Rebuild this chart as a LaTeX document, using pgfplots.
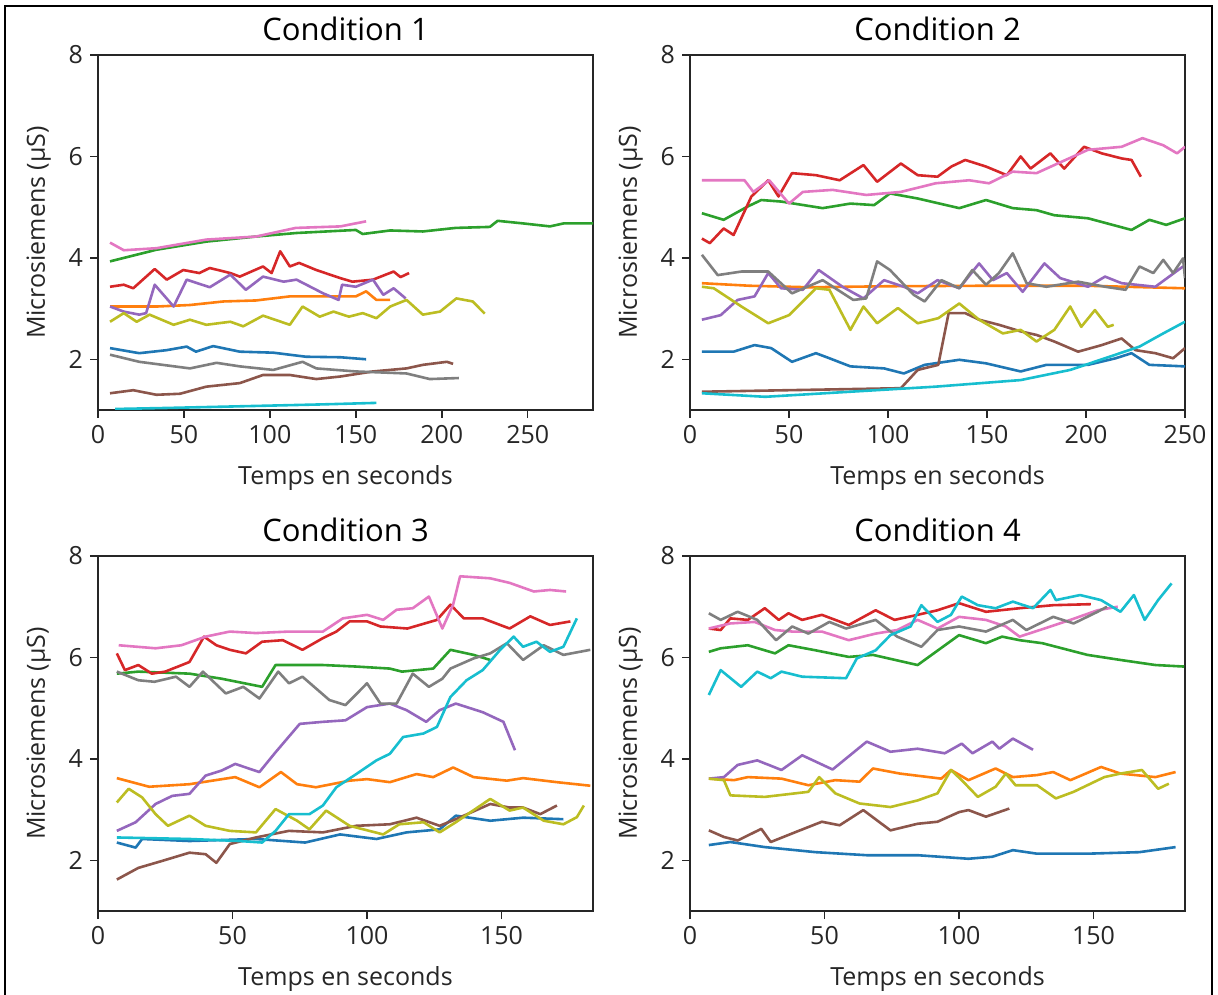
\documentclass[border=0pt]{standalone}
\usepackage{fontspec}
\setmainfont{Open Sans}
\usepackage{pgfplots}
\pgfplotsset{compat=1.18}

% matplotlib "tab10" palette
\definecolor{c0}{HTML}{1F77B4}
\definecolor{c1}{HTML}{FF7F0E}
\definecolor{c2}{HTML}{2CA02C}
\definecolor{c3}{HTML}{D62728}
\definecolor{c4}{HTML}{9467BD}
\definecolor{c5}{HTML}{8C564B}
\definecolor{c6}{HTML}{E377C2}
\definecolor{c7}{HTML}{7F7F7F}
\definecolor{c8}{HTML}{BCBD22}
\definecolor{c9}{HTML}{17BECF}

\pgfplotsset{
  panel/.style={
    scale only axis,
    width=247.5pt, height=177.5pt,
    anchor=south west,
    ymin=1, ymax=8, ytick={2,4,6,8},
    xmin=0,
    tick pos=left,
    tick align=outside,
    major tick length=4pt,
    axis line style={line width=0.75pt, black!85},
    every tick/.style={line width=0.75pt, black!85},
    font=\fontsize{12.5}{14}\selectfont,
    tick label style={font=\fontsize{12.5}{14}\selectfont, text=black!85},
    /pgf/number format/assume math mode=true,
    title style={font=\fontsize{15.5}{17}\selectfont, yshift=-2.5pt},
    xlabel={Temps en seconds},
    ylabel={Microsiemens (µS)},
    label style={text=black!85},
    xlabel style={yshift=-4pt},
    ylabel style={yshift=2pt},
    clip=true,
    every axis plot/.append style={no markers, line width=1.3pt, line join=round},
  }
}

\begin{document}
\begin{tikzpicture}
\useasboundingbox (0,0) rectangle (609pt,497pt);
\draw[line width=1.3pt] (2.5pt,-5pt) -- (2.5pt,494pt) -- (606pt,494pt) -- (606pt,-5pt);

% ---------------- Condition 1 ----------------
\begin{axis}[panel, at={(49pt,292pt)}, xmax=288, xtick={0,50,100,150,200,250}, title={Condition 1}]
\addplot[c0] coordinates {(7,2.22)(24,2.12)(40,2.18)(51.6,2.25)(57,2.15)(67,2.26)(82.5,2.15)(102,2.13)(121,2.05)(141,2.04)(156,2.00)};
\addplot[c1] coordinates {(7,3.04)(34,3.04)(53.5,3.07)(73,3.14)(92,3.16)(111.6,3.24)(131,3.24)(150,3.24)(156,3.34)(162,3.17)(170,3.17)};
\addplot[c2] coordinates {(7,3.93)(34,4.16)(63,4.32)(92,4.42)(115.5,4.49)(150,4.55)(154,4.47)(170,4.54)(189,4.52)(208,4.59)(228,4.61)(232.5,4.73)(247,4.68)(263,4.62)(271,4.68)(288,4.68)};
\addplot[c3] coordinates {(7,3.43)(15,3.47)(20.5,3.40)(33,3.78)(40,3.57)(49.6,3.76)(59,3.70)(65,3.80)(77,3.70)(82.5,3.63)(96,3.83)(101,3.70)(106,4.13)(111.6,3.83)(117,3.90)(127,3.76)(141,3.60)(148,3.53)(160,3.57)(172,3.73)(176,3.62)(181,3.70)};
\addplot[c4] coordinates {(7,3.04)(15,2.94)(24,2.88)(28,2.91)(33,3.47)(44,3.04)(51.6,3.57)(65,3.42)(77,3.67)(86,3.37)(96,3.63)(108,3.53)(115.5,3.57)(131,3.30)(140,3.17)(142,3.47)(150,3.43)(160,3.57)(166,3.27)(172,3.40)(179,3.20)};
\addplot[c5] coordinates {(7,1.33)(20.5,1.39)(34,1.30)(47.7,1.32)(63,1.46)(82.5,1.53)(96,1.69)(111.6,1.69)(127,1.61)(141,1.66)(160,1.76)(179.5,1.82)(189,1.89)(203,1.95)(206.6,1.91)};
\addplot[c6] coordinates {(7,4.30)(15,4.15)(34,4.19)(63,4.36)(92,4.42)(115,4.59)(141,4.62)(156,4.72)};
\addplot[c7] coordinates {(7,2.09)(24,1.95)(53.5,1.82)(69,1.93)(82.5,1.86)(102,1.79)(119,1.95)(127,1.82)(150,1.76)(179.5,1.72)(193,1.61)(210,1.63)};
\addplot[c8] coordinates {(7,2.74)(15,2.91)(22.5,2.74)(30,2.88)(44,2.68)(53.5,2.78)(63,2.68)(77,2.74)(84.5,2.65)(96,2.86)(111.6,2.68)(119,3.04)(129,2.84)(137,2.94)(146,2.84)(154,2.91)(162,2.81)(170,3.04)(179.5,3.17)(189,2.88)(199,2.94)(208.5,3.20)(218,3.14)(225,2.90)};
\addplot[c9] coordinates {(10,1.02)(40,1.04)(92,1.08)(130,1.11)(162,1.14)};
\end{axis}

% ---------------- Condition 2 ----------------
\begin{axis}[panel, at={(345pt,292pt)}, xmax=250, xtick={0,50,100,150,200,250}, title={Condition 2}]
\addplot[c0] coordinates {(6,2.15)(22,2.15)(32.6,2.28)(41,2.22)(51.5,1.95)(63.6,2.12)(70.4,2.02)(81,1.86)(98,1.82)(108,1.72)(118.5,1.89)(136,1.99)(149.5,1.92)(167,1.76)(180,1.89)(201,1.89)(215,2.02)(223,2.12)(232,1.89)(250,1.86)};
\addplot[c1] coordinates {(6,3.50)(30,3.45)(60,3.42)(100,3.44)(150,3.45)(200,3.45)(250,3.40)};
\addplot[c2] coordinates {(6,4.88)(17,4.75)(29,5.01)(36,5.14)(46,5.11)(67,4.98)(81,5.07)(93,5.04)(101,5.27)(115,5.17)(136,4.98)(149.5,5.14)(163,4.98)(175,4.94)(184,4.84)(201,4.78)(223,4.55)(232,4.75)(240.5,4.65)(250,4.78)};
\addplot[c3] coordinates {(6,4.38)(10,4.29)(17,4.58)(22,4.45)(31,5.21)(39.5,5.53)(44.7,5.21)(51.5,5.67)(63.6,5.63)(75.6,5.53)(87.6,5.83)(94.5,5.50)(106.5,5.86)(115,5.63)(125,5.60)(132,5.80)(139,5.93)(149.5,5.80)(160,5.63)(167,6.00)(172,5.76)(182,6.06)(189,5.76)(199,6.19)(208,6.06)(218,5.96)(223,5.93)(227.7,5.60)};
\addplot[c4] coordinates {(6,2.78)(15.5,2.87)(24,3.17)(32.6,3.24)(39.5,3.70)(46,3.40)(57,3.37)(65,3.76)(77,3.43)(87.6,3.20)(98,3.56)(108,3.43)(115,3.30)(125,3.56)(136,3.40)(146,3.89)(153,3.56)(160,3.70)(168,3.33)(179,3.89)(187,3.60)(201,3.43)(209.6,3.63)(218,3.50)(235,3.43)(249,3.83)};
\addplot[c5] coordinates {(6,1.36)(63.6,1.40)(106.5,1.43)(115,1.79)(125.4,1.89)(130.6,2.91)(139,2.91)(146,2.78)(156,2.68)(167,2.55)(175,2.48)(184,2.35)(196,2.15)(208,2.28)(218,2.41)(225,2.18)(235,2.12)(244,2.02)(250,2.22)};
\addplot[c6] coordinates {(6,5.53)(27.5,5.53)(32,5.30)(40,5.53)(50,5.07)(57,5.30)(72,5.34)(89,5.24)(106.5,5.30)(124,5.47)(141,5.53)(151,5.47)(163,5.70)(175,5.67)(184,5.83)(201,6.13)(218,6.19)(228.5,6.36)(239,6.22)(246,6.06)(250,6.19)};
\addplot[c7] coordinates {(6,4.06)(14,3.66)(26,3.73)(39.5,3.73)(51.5,3.30)(67,3.56)(82.5,3.17)(89,3.20)(94.5,3.93)(101,3.76)(113,3.27)(118.5,3.14)(127,3.56)(136,3.40)(142.6,3.76)(149.5,3.47)(156,3.70)(163,4.09)(170,3.50)(180,3.43)(196,3.53)(209.6,3.43)(220,3.37)(227,3.83)(234,3.70)(239,3.96)(244,3.70)(249,3.99)(250,3.60)};
\addplot[c8] coordinates {(6,3.43)(12,3.40)(26,3.04)(39.5,2.71)(50,2.87)(63.6,3.40)(70.4,3.37)(81,2.58)(87.6,3.04)(94.5,2.71)(105,3.01)(115,2.71)(125.4,2.81)(136,3.10)(146,2.78)(158,2.51)(167,2.58)(175,2.35)(184,2.58)(192,3.04)(197.6,2.64)(204.5,2.97)(211,2.64)(214,2.68)};
\addplot[c9] coordinates {(6,1.33)(38,1.26)(81,1.36)(124,1.46)(167,1.59)(192,1.79)(209.6,2.02)(227,2.25)(239,2.51)(250,2.74)};
\end{axis}

% ---------------- Condition 3 ----------------
\begin{axis}[panel, at={(49pt,41.5pt)}, xmax=184, xtick={0,50,100,150}, title={Condition 3}]
\addplot[c0] coordinates {(7,2.35)(14,2.25)(16.4,2.42)(34,2.38)(58.7,2.42)(77,2.35)(90,2.51)(103.5,2.42)(114.7,2.55)(127,2.61)(133,2.88)(145.8,2.78)(158,2.84)(173,2.81)};
\addplot[c1] coordinates {(7,3.62)(19,3.45)(34,3.50)(51,3.64)(60,3.44)(68,3.74)(74,3.50)(81,3.44)(93.5,3.57)(100,3.60)(108.5,3.54)(118.4,3.70)(124.6,3.64)(132,3.83)(139.6,3.64)(152,3.57)(158,3.62)(170.6,3.54)(183,3.47)};
\addplot[c2] coordinates {(7,5.68)(15,5.72)(34,5.68)(46,5.58)(61,5.42)(66,5.85)(83.6,5.85)(96,5.82)(108.5,5.78)(113,5.72)(124.6,5.78)(131,6.15)(139.6,6.05)(145.8,5.95)};
\addplot[c3] coordinates {(7,6.08)(10,5.75)(15,5.85)(20,5.68)(25,5.72)(34,5.91)(39.4,6.41)(44,6.24)(49,6.15)(55,6.08)(61,6.31)(68.7,6.34)(76,6.15)(83.6,6.38)(88.6,6.51)(93.5,6.71)(100,6.71)(105,6.61)(115,6.57)(126,6.74)(131,7.04)(136,6.77)(143,6.77)(153,6.57)(160.7,6.81)(168,6.64)(175.6,6.71)};
\addplot[c4] coordinates {(7,2.58)(14,2.75)(21.4,3.11)(27.6,3.27)(34,3.31)(40,3.67)(46,3.77)(51,3.90)(60,3.74)(66,4.13)(75,4.69)(83.6,4.73)(92,4.76)(100,5.02)(108.5,5.09)(114.7,4.96)(122,4.73)(127,4.96)(133,5.09)(143,4.92)(150.7,4.73)(155,4.17)};
\addplot[c5] coordinates {(7,1.62)(15,1.85)(24,1.99)(34,2.15)(40,2.12)(44,1.95)(49,2.32)(58.7,2.45)(71,2.58)(83.6,2.55)(96,2.68)(108.5,2.71)(118.4,2.84)(127,2.68)(133,2.81)(145.8,3.11)(153,3.04)(158,3.04)(164.4,2.91)(170.6,3.08)};
\addplot[c6] coordinates {(7.7,6.24)(21.4,6.18)(31,6.24)(40,6.41)(49,6.51)(58.7,6.48)(71,6.51)(83.6,6.51)(91,6.77)(100,6.84)(106,6.74)(111,6.94)(117,6.97)(123,7.20)(128,6.57)(132,7.04)(134.6,7.60)(145.8,7.56)(153,7.47)(162,7.30)(168,7.33)(174,7.30)};
\addplot[c7] coordinates {(7,5.72)(15,5.55)(21,5.52)(29,5.62)(34,5.42)(39,5.72)(47.5,5.29)(54,5.42)(60,5.19)(67,5.72)(71,5.49)(76,5.62)(86,5.16)(92,5.06)(100,5.49)(105,5.09)(111,5.09)(117,5.68)(123,5.42)(128,5.58)(131,5.78)(139.6,5.98)(145.8,6.08)(152,6.28)(158,5.95)(165.7,6.24)(173,6.05)(183,6.15)};
\addplot[c8] coordinates {(7,3.14)(11.4,3.41)(16.4,3.24)(21.4,2.91)(26,2.68)(34,2.88)(40,2.68)(49,2.58)(58.7,2.55)(66,3.01)(74,2.78)(78.6,2.61)(84.8,2.98)(93.5,2.68)(106,2.51)(112,2.71)(121,2.75)(127,2.55)(133,2.75)(145.8,3.21)(153,2.98)(158,3.04)(165.7,2.78)(173,2.71)(178,2.85)(180.6,3.08)};
\addplot[c9] coordinates {(7,2.45)(34,2.42)(52.5,2.38)(61,2.35)(66,2.58)(71,2.91)(78.6,2.91)(83.6,3.08)(88.6,3.44)(96,3.70)(103.5,3.97)(108.5,4.10)(113.4,4.43)(121,4.50)(126,4.63)(131,5.22)(137,5.55)(143,5.75)(149.5,6.15)(154.5,6.41)(158,6.21)(163,6.31)(168,6.11)(173,6.21)(178,6.77)};
\end{axis}

% ---------------- Condition 4 ----------------
\begin{axis}[panel, at={(345pt,41.5pt)}, xmax=184, xtick={0,50,100,150}, title={Condition 4}]
\addplot[c0] coordinates {(7,2.30)(15,2.36)(27.8,2.26)(46.7,2.16)(65.7,2.10)(84.6,2.10)(103.5,2.03)(112.4,2.07)(120,2.20)(129,2.13)(147.7,2.13)(167,2.16)(180.5,2.26)};
\addplot[c1] coordinates {(7,3.61)(16.4,3.58)(21.5,3.64)(34,3.61)(44,3.48)(54,3.58)(63,3.55)(68,3.81)(78,3.71)(93.4,3.61)(97,3.78)(103.5,3.58)(113.6,3.81)(120,3.64)(129,3.68)(135,3.74)(141.4,3.58)(152.8,3.84)(160,3.71)(173,3.64)(180.5,3.74)};
\addplot[c2] coordinates {(7,6.11)(11.4,6.18)(21.5,6.24)(31.6,6.08)(36.6,6.24)(46.7,6.14)(59,6.01)(68,6.05)(84.6,5.85)(100,6.44)(110,6.28)(116,6.41)(122.5,6.34)(131,6.28)(147.7,6.05)(160,5.95)(173,5.85)(183.7,5.82)};
\addplot[c3] coordinates {(7,6.57)(11.4,6.54)(15,6.77)(21.5,6.74)(27.8,6.97)(33,6.74)(36.6,6.87)(41.7,6.74)(49,6.84)(59,6.64)(69,6.93)(76,6.74)(84.6,6.84)(92,6.93)(100,7.07)(110,6.90)(122.5,6.97)(135,7.03)(149,7.05)};
\addplot[c4] coordinates {(7,3.61)(12.6,3.64)(17.7,3.88)(25,3.97)(34,3.78)(41.7,4.07)(53,3.79)(65.7,4.34)(74.5,4.14)(84.6,4.20)(94.7,4.11)(101,4.30)(105,4.11)(112.4,4.34)(115,4.20)(120,4.40)(127.5,4.18)};
\addplot[c5] coordinates {(7,2.59)(12.6,2.46)(17.7,2.39)(26.5,2.62)(30,2.36)(38,2.53)(49,2.76)(55.6,2.69)(64.4,2.99)(74.5,2.59)(84.6,2.72)(92,2.76)(100,2.95)(103.5,2.99)(110,2.86)(118.7,3.02)};
\addplot[c6] coordinates {(7,6.57)(15,6.67)(24,6.70)(31.6,6.54)(38,6.51)(49,6.51)(59,6.34)(69,6.47)(77,6.54)(84.6,6.74)(92,6.57)(100,6.80)(110,6.74)(117.4,6.61)(122.5,6.41)(130,6.54)(141.4,6.74)(151.5,6.93)(159,7.00)};
\addplot[c7] coordinates {(7,6.87)(11.4,6.74)(17.7,6.90)(25,6.74)(32,6.34)(38,6.61)(44,6.47)(51.8,6.70)(58,6.57)(69,6.74)(77,6.41)(86,6.21)(92,6.54)(100,6.61)(110,6.51)(120,6.74)(125,6.54)(135,6.80)(142.6,6.67)(151.5,6.90)(155,7.00)};
\addplot[c8] coordinates {(7,3.61)(12.6,3.58)(15,3.28)(27.8,3.25)(44,3.35)(48,3.64)(54,3.32)(63,3.12)(74.5,3.05)(84.6,3.18)(92,3.32)(97,3.78)(101,3.58)(107,3.25)(113.6,3.45)(117.4,3.71)(121,3.48)(129,3.48)(136,3.22)(142.6,3.35)(154,3.64)(160,3.71)(168,3.78)(174,3.41)(178,3.51)};
\addplot[c9] coordinates {(7,5.26)(11.4,5.75)(19,5.42)(25,5.72)(30,5.59)(34,5.72)(41.7,5.62)(58,5.59)(62,5.98)(69,6.14)(74.5,6.44)(82,6.61)(86,7.03)(92,6.70)(97,6.84)(101,7.20)(107,7.03)(113.6,6.97)(120,7.10)(127.5,6.97)(134,7.33)(136,7.13)(145,7.23)(152.8,7.13)(160,6.90)(165,7.23)(169,6.74)(174,7.13)(179,7.46)};
\end{axis}
\end{tikzpicture}
\end{document}
